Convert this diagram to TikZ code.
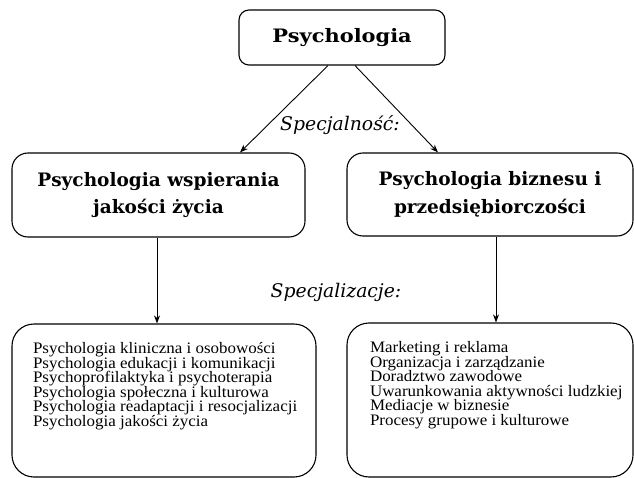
\documentclass[tikz,border=0pt]{standalone}
\usepackage{fontspec}
\setmainfont{Liberation Serif}
\newfontfamily\listfont{Liberation Serif}[FakeStretch=1.06]
\newfontfamily\bkfont{DejaVu Serif}
\newfontfamily\bkwide{DejaVu Serif}[FakeStretch=1.13]
\newcommand\tightlines{\lineskiplimit=-10pt\relax}
\usetikzlibrary{arrows.meta,calc}
\begin{document}
\begin{tikzpicture}[x=1pt,y=1pt,line width=1.1pt,
  box/.style={draw, rounded corners=#1, inner sep=0pt},
  title/.style={font=\bkfont\bfseries\fontsize{18.5}{27.5}\selectfont, align=center},
  lab/.style={font=\bkfont\itshape\fontsize{18.8}{22}\selectfont, inner sep=0pt},
  list/.style={anchor=north west, align=left, inner sep=0pt, font=\listfont\fontsize{16}{14.5}\selectfont\tightlines},
  arr/.style={-{Stealth[length=8pt,width=6pt,inset=2.5pt]}, line width=0.9pt}]
\useasboundingbox (0,0) rectangle (634,-478);
\node[box=10pt, minimum width=206pt, minimum height=55pt, title, font=\bkwide\bfseries\fontsize{18.5}{28}\selectfont] (top) at (342,-37.5) {Psychologia};
\node[box=16pt, minimum width=293pt, minimum height=84pt, title] (lm) at (158.5,-195) {Psychologia wspierania\\jakości życia};
\node[box=16pt, minimum width=286pt, minimum height=83pt, title] (rm) at (490,-194.5) {Psychologia biznesu i\\przedsiębiorczości};
\node[box=22pt, minimum width=304pt, minimum height=153pt] (lb) at (164,-400.5) {};
\node[box=22pt, minimum width=286pt, minimum height=154pt] (rb) at (490,-400) {};
\node[list] (lbt) at ($(lb.north west)+(21,-18.5)$) {Psychologia kliniczna i osobowości\\Psychologia edukacji i komunikacji\\Psychoprofilaktyka i psychoterapia\\Psychologia społeczna i kulturowa\\Psychologia readaptacji i resocjalizacji\\Psychologia jakości życia};
\node[list] (rbt) at ($(rb.north west)+(23,-18.5)$) {Marketing i reklama\\Organizacja i zarządzanie\\Doradztwo zawodowe\\Uwarunkowania aktywności ludzkiej\\Mediacje w biznesie\\Procesy grupowe i kulturowe};
\node[lab] (spec1) at (340,-125) {Specjalność:};
\node[lab] (spec2) at (336,-292) {Specjalizacje:};
\draw[arr] ($(top.south)+(-14,0)$) -- ($(lm.north)+(81.5,0)$);
\draw[arr] ($(top.south)+(13,0)$) -- ($(rm.north)+(-52,0)$);
\coordinate (ls) at ($(lm.south)+(-1.5,0)$);
\coordinate (rs) at ($(rm.south)+(6,0)$);
\draw[arr] (ls) -- (ls |- lb.north);
\draw[arr] (rs) -- (rs |- rb.north);
\end{tikzpicture}
\end{document}
